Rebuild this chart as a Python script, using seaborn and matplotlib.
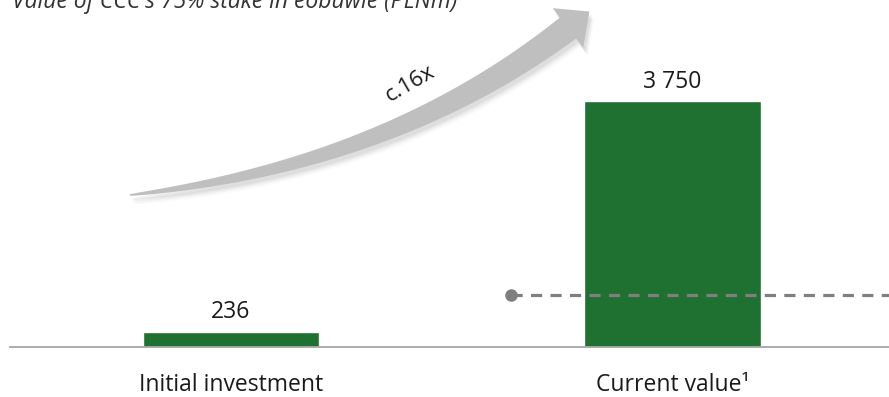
import numpy as np
import pandas as pd
import seaborn as sns
import matplotlib.pyplot as plt
from matplotlib.patches import Polygon

# data
categories = ["Initial investment", "Current value\u00b9"]
values = [236, 3750]
value_labels = ["236", "3 750"]
ref_value = 790      # dashed reference level
ref_start = 0.634    # x position (category units) where the reference dot sits
title = "Value of CCC's 75% stake in eobuwie (PLNm)"
arrow_text = "c.16x"

green = "#1E7130"
W, H = 889, 397

sns.set_theme(style="white")
plt.rcParams['font.family'] = ['Open Sans', 'DejaVu Sans']

fig = plt.figure(figsize=(W / 100, H / 100), dpi=100)
ax = fig.add_axes([10 / W, 50 / H, 879 / W, 347 / H])

df = pd.DataFrame({"cat": categories, "val": values})
sns.barplot(data=df, x="cat", y="val", color=green, width=0.4, ax=ax,
            saturation=1)
ax.set_xlim(-0.5, 1.49)
ax.set_ylim(0, 3750 * 347 / 246)

for i, (v, lab) in enumerate(zip(values, value_labels)):
    ax.text(i, v + 0.03 * 3750, lab, ha="center", va="bottom", fontsize=16.5,
            color="#1a1a1a")

# reference dashed line with dot
ax.plot([ref_start, 1.49], [ref_value, ref_value], color="#7f7f7f", lw=2.3,
        ls=(0, (3.5, 2.6)), zorder=3, clip_on=False)
ax.plot([ref_start], [ref_value], "o", color="#7f7f7f", ms=8, zorder=4)

for s in ["top", "right", "left"]:
    ax.spines[s].set_visible(False)
ax.spines["bottom"].set_color("#a6a6a6")
ax.spines["bottom"].set_linewidth(1.3)
ax.set_yticks([])
ax.set_xlabel("")
ax.set_ylabel("")
ax.tick_params(axis="x", length=0, pad=19, labelsize=16.5, labelcolor="#1a1a1a")

# title (partly cut at the top, as in the source)
fig.text(12 / W, 1 - 8 / H, title, ha="left", va="baseline", fontsize=16.5,
         style="italic", color="#333333")

# curved tapered arrow (drawn in figure pixel space)
p0 = np.array([130.0, 195.0])
p1 = np.array([390.0, 165.0])
p2 = np.array([568.0, 28.0])
t = np.linspace(0, 1, 100)[:, None]
pts = (1 - t) ** 2 * p0 + 2 * (1 - t) * t * p1 + t ** 2 * p2
tan = 2 * (1 - t) * (p1 - p0) + 2 * t * (p2 - p1)
tan = tan / np.linalg.norm(tan, axis=1, keepdims=True)
nrm = np.column_stack([tan[:, 1], -tan[:, 0]])
half = 0.8 + 12.5 * t ** 0.75
upper = pts + nrm * half
lower = pts - nrm * half
d = tan[-1]
n = nrm[-1]
head = np.array([p2 + n * 25, p2 + d * 27, p2 - n * 25])
shape = np.vstack([upper, head, lower[::-1]])


def to_fig(a, dx=0, dy=0):
    return np.column_stack([(a[:, 0] + dx) / W, 1 - (a[:, 1] + dy) / H])


for k, a in enumerate([0.07, 0.05, 0.035, 0.02]):
    fig.patches.append(Polygon(to_fig(shape, 2 + k, 4 + 1.5 * k), closed=True,
                               transform=fig.transFigure, fc="#444444",
                               ec="none", alpha=a))
fig.patches.append(Polygon(to_fig(shape), closed=True, transform=fig.transFigure,
                           fc="#bfbfbf", ec="none"))
fig.text(410 / W, 1 - 84 / H, arrow_text, ha="center", va="center",
         fontsize=16, rotation=30, color="#1a1a1a")

plt.savefig("out.png", dpi=100)
